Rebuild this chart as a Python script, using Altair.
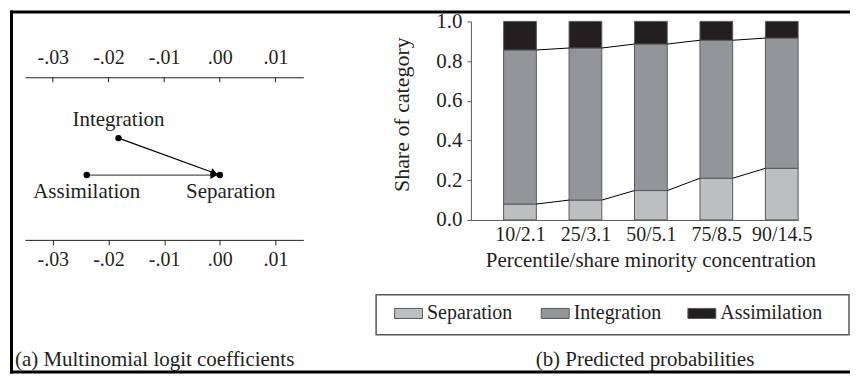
import math
import altair as alt
import pandas as pd

# ---------------- data: panel (a) multinomial logit coefficients ----------------
coef_names = ["Integration", "Assimilation", "Separation"]
coef_values = [-0.0182, -0.0239, 0.0]
coef_rows = [1, 0, 0]
arrow_from = ["Integration", "Assimilation"]
arrow_to = ["Separation", "Separation"]
coef_ticks = [-0.03, -0.02, -0.01, 0.0, 0.01]

# ---------------- data: panel (b) predicted probabilities ----------------
categories = ["10/2.1", "25/3.1", "50/5.1", "75/8.5", "90/14.5"]
separation = [0.080, 0.100, 0.148, 0.210, 0.260]
integration = [0.776, 0.766, 0.738, 0.695, 0.656]
assimilation = [0.144, 0.134, 0.114, 0.095, 0.084]
series_names = ["Separation", "Integration", "Assimilation"]
share_ticks = [0.0, 0.2, 0.4, 0.6, 0.8, 1.0]

caption_a = "(a) Multinomial logit coefficients"
caption_b = "(b) Predicted probabilities"
x_title_b = "Percentile/share minority concentration"
y_title_b = "Share of category"

# ---------------- style / layout ----------------
FONT = "Liberation Serif, Times New Roman, Times, serif"
INK = "#231f20"
EDGE = "#58595b"
fills = ["#bcbec0", "#939598", "#231f20"]

LW, LH = 279, 219
RW, RH = 328, 199
GAP = 168
RX = LW + GAP  # right view origin in top-level coordinates

xa_dom = [-0.035, 0.015]
ya_dom = [-1.756, 4.161]
xb_dom = [-0.75, 4.25]

xa_scale = alt.Scale(domain=xa_dom, nice=False, zero=False)
ya_scale = alt.Scale(domain=ya_dom, nice=False, zero=False)
xb_scale = alt.Scale(domain=xb_dom, nice=False, zero=False)
yb_scale = alt.Scale(domain=[0, 1], nice=False, zero=True)

# ---------------- tables for panel (a) ----------------
points = pd.DataFrame({"name": coef_names, "coef": coef_values, "row": coef_rows})
pos = {n: (c, r) for n, c, r in zip(coef_names, coef_values, coef_rows)}
seg_rows, head_rows = [], []
pxx = LW / (xa_dom[1] - xa_dom[0])
pxy = LH / (ya_dom[1] - ya_dom[0])
for f, t in zip(arrow_from, arrow_to):
    x0, r0 = pos[f]
    x1, r1 = pos[t]
    seg_rows.append({"from": f, "x0": x0, "r0": r0, "x1": x1, "r1": r1})
    dx = (x1 - x0) * pxx
    dy = -(r1 - r0) * pxy
    L = math.hypot(dx, dy)
    back = 6.0
    head_rows.append({
        "from": f,
        "hx": x1 - back * dx / L / pxx,
        "hr": r1 + back * dy / L / pxy,
        "angle": math.degrees(math.atan2(dy, dx)) % 360,
    })
segs = pd.DataFrame(seg_rows)
heads = pd.DataFrame(head_rows)
ticks_a = pd.DataFrame({"tick": coef_ticks})

lab_expr_a = "(datum.value < 0 ? '-' : '') + substring(format(abs(datum.value), '.2f'), 1)"

common_ax = dict(values=coef_ticks, labelExpr=lab_expr_a, title=None, grid=False,
                 domainColor=INK, domainWidth=1, labelFontSize=20, labelColor=INK,
                 labelFont=FONT, labelFlush=False, labelOverlap=False)
top_axis = alt.Axis(orient="top", offset=-56, ticks=False, tickSize=0, labelPadding=10, **common_ax)
bot_axis = alt.Axis(orient="bottom", ticks=True, tickSize=5, tickColor=INK, labelPadding=5, **common_ax)

top_ticks = alt.Chart(ticks_a).mark_rule(color=INK, strokeWidth=1).encode(
    x=alt.X("tick:Q", scale=xa_scale, axis=top_axis),
    y=alt.value(56), y2=alt.value(61),
)

seg_layer = alt.Chart(segs).mark_rule(strokeWidth=1.2).encode(
    x=alt.X("x0:Q", scale=xa_scale, axis=None),
    x2="x1:Q",
    y=alt.Y("r0:Q", scale=ya_scale, axis=None),
    y2="r1:Q",
    color=alt.condition(alt.datum["from"] == "Integration", alt.value("#000000"), alt.value("#555555")),
)

head_layer = alt.Chart(heads).mark_point(shape="triangle-right", filled=True, size=60,
                                        color="#000000", opacity=1).encode(
    x=alt.X("hx:Q", scale=xa_scale, axis=None),
    y=alt.Y("hr:Q", scale=ya_scale, axis=None),
    angle=alt.Angle("angle:Q", scale=None),
)

dot_layer = alt.Chart(points).mark_circle(size=42, color="#000000", opacity=1).encode(
    x=alt.X("coef:Q", scale=xa_scale, axis=bot_axis),
    y=alt.Y("row:Q", scale=ya_scale, axis=None),
)


def coef_label(name, dx, dy):
    return alt.Chart(points).transform_filter(alt.datum.name == name).mark_text(
        font=FONT, fontSize=21, color=INK, align="center", baseline="alphabetic", dx=dx, dy=dy
    ).encode(
        x=alt.X("coef:Q", scale=xa_scale, axis=None),
        y=alt.Y("row:Q", scale=ya_scale, axis=None),
        text="name:N",
    )


frame = pd.DataFrame({"caption": [caption_a]})
cap_a = alt.Chart(frame).mark_text(font=FONT, fontSize=21, color=INK, align="left",
                                   baseline="alphabetic").encode(
    x=alt.value(-10), y=alt.value(345), text="caption:N")
border_top = alt.Chart(frame).mark_rule(color="#000000", strokeWidth=3).encode(
    x=alt.value(-15), x2=alt.value(827), y=alt.value(-9.5))
border_left = alt.Chart(frame).mark_rule(color="#000000", strokeWidth=3).encode(
    x=alt.value(-13.5), y=alt.value(-11), y2=alt.value(353))
border_bottom = alt.Chart(frame).mark_rule(color="#000000", strokeWidth=3).encode(
    x=alt.value(-15), x2=alt.value(827), y=alt.value(351.5))

left = alt.layer(
    border_top, border_left, border_bottom,
    top_ticks, seg_layer, head_layer, dot_layer,
    coef_label("Integration", 0, -12),
    coef_label("Assimilation", 0, 23),
    coef_label("Separation", 11, 23),
    cap_a,
).resolve_axis(x="independent").properties(width=LW, height=LH)

# ---------------- tables for panel (b) ----------------
bar_rows = []
bounds_sep, bounds_int = [], []
for i, cat in enumerate(categories):
    lo = 0.0
    for s, v in zip(series_names, [separation[i], integration[i], assimilation[i]]):
        bar_rows.append({"cat": cat, "idx": i, "series": s, "lo": lo, "hi": lo + v,
                         "xl": i - 0.25, "xr": i + 0.25})
        lo += v
    bounds_sep.append(separation[i])
    bounds_int.append(separation[i] + integration[i])
bars_df = pd.DataFrame(bar_rows)

line_rows = []
for b in (bounds_sep, bounds_int):
    for i in range(len(categories) - 1):
        line_rows.append({"x0": i + 0.25, "x1": i + 0.75, "y0": b[i], "y1": b[i + 1]})
lines_df = pd.DataFrame(line_rows)

lab_expr_b = " : ".join(
    "datum.value == %d ? '%s'" % (i, c) for i, c in enumerate(categories)
) + " : ''"
xb_axis = alt.Axis(values=list(range(len(categories))), labelExpr=lab_expr_b, ticks=False,
                   labelPadding=5, domainColor=EDGE, domainWidth=1, labelFontSize=20, labelColor=INK,
                   labelFont=FONT, labelFlush=False, grid=False,
                   title=x_title_b, titleFont=FONT, titleFontSize=21, titleFontWeight="normal",
                   titleColor=INK, titlePadding=5, titleX=180)
yb_axis = alt.Axis(values=share_ticks, format=".1f", tickSize=4, tickColor=EDGE, labelPadding=5,
                   domainColor=EDGE, domainWidth=1, labelFontSize=21, labelColor=INK, labelFont=FONT,
                   grid=False, title=y_title_b, titleFont=FONT, titleFontSize=22,
                   titleFontWeight="normal", titleColor=INK, titlePadding=22, titleY=93)

swatch = "M-1,-0.36L1,-0.36L1,0.36L-1,0.36Z"
legend_b = alt.Legend(title=None, orient="none", legendX=RX - 77, legendY=278, direction="horizontal",
                      symbolType=swatch, symbolSize=784, symbolStrokeColor=EDGE, symbolStrokeWidth=1,
                      symbolOpacity=1, labelFont=FONT, labelFontSize=20, labelColor=INK, labelOffset=4,
                      columnPadding=9, gridAlign="all", padding=0, labelLimit=300)

bars = alt.Chart(bars_df).mark_bar(stroke=EDGE, strokeWidth=1, opacity=1).encode(
    x=alt.X("xl:Q", scale=xb_scale, axis=xb_axis),
    x2="xr:Q",
    y=alt.Y("lo:Q", scale=yb_scale, axis=yb_axis),
    y2="hi:Q",
    color=alt.Color("series:N", scale=alt.Scale(domain=series_names, range=fills), legend=legend_b),
)

series_lines = alt.Chart(lines_df).mark_rule(color="#000000", strokeWidth=1).encode(
    x=alt.X("x0:Q", scale=xb_scale, axis=None),
    x2="x1:Q",
    y=alt.Y("y0:Q", scale=yb_scale, axis=None),
    y2="y1:Q",
)

frame_b = pd.DataFrame({"caption": [caption_b]})
legend_box = alt.Chart(frame_b).mark_rect(fill="white", fillOpacity=0, stroke=EDGE, strokeWidth=1.5).encode(
    x=alt.value(-95), x2=alt.value(379), y=alt.value(274), y2=alt.value(314))
cap_b = alt.Chart(frame_b).mark_text(font=FONT, fontSize=21, color=INK, align="center",
                                     baseline="alphabetic").encode(
    x=alt.value(174.5), y=alt.value(345), text="caption:N")

right = alt.layer(bars, series_lines, legend_box, cap_b).resolve_axis(
    x="independent", y="independent"
).properties(width=RW, height=RH)

chart = alt.hconcat(left, right, spacing=GAP, bounds="flush").properties(
    padding=0
).configure(font=FONT).configure_view(strokeWidth=0, stroke="transparent")

chart.save("out.html", embed_options={"renderer": "svg", "actions": False})
